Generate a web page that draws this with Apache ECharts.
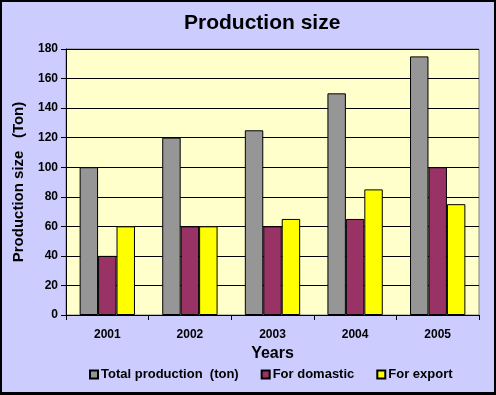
<!DOCTYPE html>
<html><head><meta charset="utf-8">
<script src="https://cdn.jsdelivr.net/npm/echarts@6/dist/echarts.min.js"></script>
<style>html,body{margin:0;padding:0;}#c{width:496px;height:395px;box-sizing:border-box;border:2px solid #000;border-bottom-width:3px;}</style>
</head><body><div id="c"></div>
<script>
const years = ['2001','2002','2003','2004','2005'];
const totalProduction = [100,120,125,150,175];
const forDomestic = [40,60,60,65,100];
const forExport = [60,60,65,85,75];
const seriesNames = ['Total production  (ton)','For domastic','For export'];
const chart = echarts.init(document.getElementById('c'));
const font = 'Arial, "Liberation Sans", sans-serif';
const barStyle = c => ({color:c, borderColor:'#000', borderWidth:1});
chart.setOption({
  animation:false,
  backgroundColor:'#ccccff',
  title:{text:'Production size', left:177, top:6, textStyle:{fontFamily:font,fontSize:21,fontWeight:'bold',color:'#000',
    textShadowColor:'rgba(0,0,160,0.35)', textShadowOffsetX:1, textShadowOffsetY:1, textShadowBlur:0}},
  grid:{left:64, right:15, top:47, bottom:77, show:true, backgroundColor:'#ffffcc', borderColor:'#808080', borderWidth:1},
  legend:{bottom:6, left:82, itemWidth:8, itemHeight:8, itemGap:22, icon:'rect',
    textStyle:{fontFamily:font,fontSize:13,fontWeight:'bold',color:'#000', padding:[0,0,0,-2]}, data:seriesNames},
  xAxis:{type:'category', data:years, name:'Years', nameLocation:'middle', nameGap:29,
    nameTextStyle:{fontFamily:font,fontSize:16,fontWeight:'bold',color:'#000'},
    axisLine:{lineStyle:{color:'#000'}}, axisTick:{show:true, length:5, lineStyle:{color:'#000'}},
    axisLabel:{fontFamily:font,fontSize:12,fontWeight:'bold',color:'#000', margin:14}},
  yAxis:{type:'value', min:0, max:180, interval:20, name:'Production size   (Ton)', nameLocation:'middle', nameGap:40,
    nameTextStyle:{fontFamily:font,fontSize:15,fontWeight:'bold',color:'#000'},
    axisLine:{show:true, lineStyle:{color:'#000'}}, axisTick:{show:true, length:5, lineStyle:{color:'#000'}},
    splitLine:{lineStyle:{color:'#000'}},
    axisLabel:{fontFamily:font,fontSize:12,fontWeight:'bold',color:'#000', margin:8}},
  series:[
    {name:seriesNames[0], type:'bar', data:totalProduction, barGap:'0%', barCategoryGap:'33%', itemStyle:barStyle('#969696')},
    {name:seriesNames[1], type:'bar', data:forDomestic, itemStyle:barStyle('#993366')},
    {name:seriesNames[2], type:'bar', data:forExport, itemStyle:barStyle('#ffff00')}
  ]
});
</script></body></html>
